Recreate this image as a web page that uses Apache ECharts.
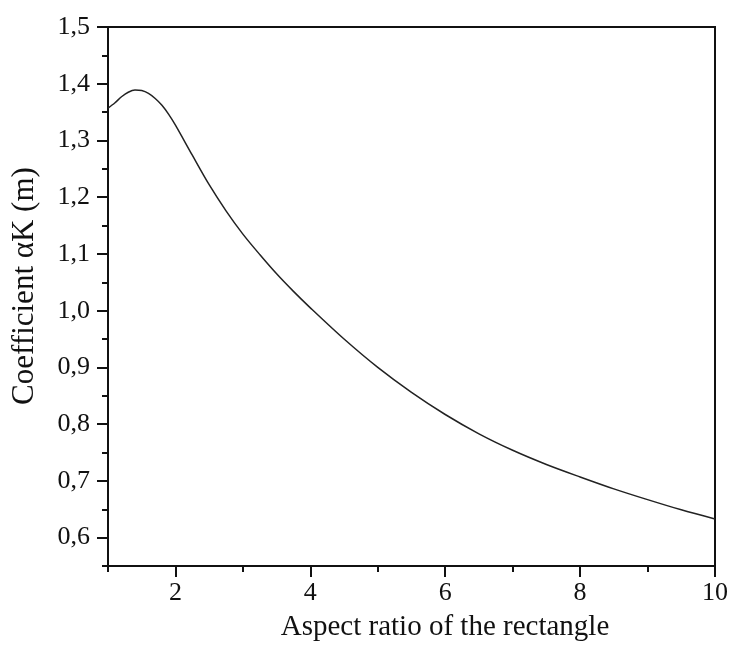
<!DOCTYPE html>
<html>
<head>
<meta charset="utf-8">
<script src="https://cdn.jsdelivr.net/npm/echarts@6/dist/echarts.min.js"></script>
<style>html,body{margin:0;padding:0;background:#fff}#c{width:736px;height:661px}</style>
</head>
<body>
<div id="c"></div>
<script>
var aspectRatio = [1.0, 1.1, 1.2, 1.3, 1.4, 1.5, 1.6, 1.7, 1.8, 1.9, 2.0, 2.25, 2.5, 2.75, 3.0, 3.25, 3.5, 3.75, 4.0, 4.5, 5.0, 5.5, 6.0, 6.5, 7.0, 7.5, 8.0, 8.5, 9.0, 9.5, 10.0];
var coefficient = [1.357, 1.366, 1.377, 1.385, 1.389, 1.388, 1.383, 1.374, 1.362, 1.346, 1.327, 1.274, 1.222, 1.176, 1.135, 1.099, 1.065, 1.034, 1.005, 0.950, 0.900, 0.856, 0.817, 0.783, 0.754, 0.729, 0.707, 0.686, 0.667, 0.649, 0.633];
var yMajorTicks = [0.6, 0.7, 0.8, 0.9, 1.0, 1.1, 1.2, 1.3, 1.4, 1.5];
var yMinorTicks = [0.55, 0.65, 0.75, 0.85, 0.95, 1.05, 1.15, 1.25, 1.35, 1.45];
var xMajorTicks = [2, 4, 6, 8, 10];
var xMinorTicks = [1, 3, 5, 7, 9];

var font = 'Liberation Serif';
var chart = echarts.init(document.getElementById('c'));
var pts = aspectRatio.map(function (x, i) { return [x, coefficient[i]]; });
function fmt(v) { return v.toFixed(1).replace('.', ','); }

chart.setOption({
  animation: false,
  backgroundColor: '#fff',
  grid: { left: 108, right: 21, top: 27, bottom: 95, show: true, borderColor: '#111', borderWidth: 2 },
  xAxis: [{
    type: 'value', min: 1, max: 10, position: 'bottom',
    axisLine: { show: true, lineStyle: { color: '#111', width: 2 } },
    axisTick: { show: true, customValues: xMajorTicks, length: 11, lineStyle: { color: '#111', width: 2 } },
    axisLabel: { customValues: xMajorTicks, color: '#111', fontFamily: font, fontSize: 26, margin: 14 },
    splitLine: { show: false },
    name: 'Aspect ratio of the rectangle', nameLocation: 'middle', nameGap: 47,
    nameTextStyle: { color: '#111', fontFamily: font, fontSize: 29, padding: [0, 0, 0, 67] }
  }, {
    type: 'value', min: 1, max: 10, position: 'bottom',
    axisLine: { show: false },
    axisTick: { show: true, customValues: xMinorTicks, length: 6, lineStyle: { color: '#111', width: 2 } },
    axisLabel: { show: false },
    splitLine: { show: false }
  }],
  yAxis: [{
    type: 'value', min: 0.55, max: 1.5, position: 'left',
    axisLine: { show: true, lineStyle: { color: '#111', width: 2 } },
    axisTick: { show: true, customValues: yMajorTicks, length: 11, lineStyle: { color: '#111', width: 2 } },
    axisLabel: { customValues: yMajorTicks, formatter: fmt, color: '#111', fontFamily: font, fontSize: 26, margin: 18 },
    splitLine: { show: false },
    name: 'Coefficient \u03b1K (m)', nameLocation: 'middle', nameGap: 68, nameRotate: 90,
    nameTextStyle: { color: '#111', fontFamily: font, fontSize: 31, padding: [0, 0, 0, 21] }
  }, {
    type: 'value', min: 0.55, max: 1.5, position: 'left',
    axisLine: { show: false },
    axisTick: { show: true, customValues: yMinorTicks, length: 6, lineStyle: { color: '#111', width: 2 } },
    axisLabel: { show: false },
    splitLine: { show: false }
  }],
  series: [{
    type: 'line', data: pts, smooth: 0.3, showSymbol: false,
    lineStyle: { color: '#222', width: 1.5 }
  }]
});
</script>
</body>
</html>
